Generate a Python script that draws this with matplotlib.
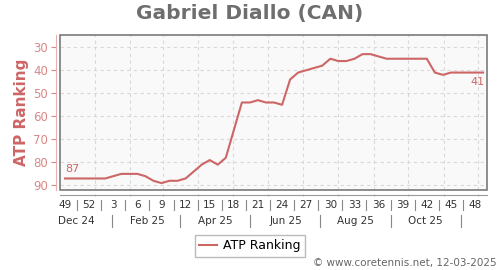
import matplotlib
matplotlib.use('Agg')
import matplotlib.pyplot as plt
import matplotlib.transforms as mtransforms
from matplotlib.patches import Rectangle
import pandas as pd

player = 'Gabriel Diallo (CAN)'
first_week = '2024-12-02'
ranking = [87, 87, 87, 87, 87, 87, 86, 85, 85, 85, 86, 88, 89, 88, 88, 87,
           84, 81, 79, 81, 78, 66, 54, 54, 53, 54, 54, 55, 44, 41, 40, 39,
           38, 35, 36, 36, 35, 33, 33, 34, 35, 35, 35, 35, 35, 35, 41, 42,
           41, 41, 41, 41, 41]
yticks = [30, 40, 50, 60, 70, 80, 90]
month_labels = ['Dec 24', 'Feb 25', 'Apr 25', 'Jun 25', 'Aug 25', 'Oct 25']
credit = '\u00a9 www.coretennis.net, 12-03-2025'

red = '#cd6666'
light_red = '#d98888'

weeks = pd.date_range(first_week, periods=len(ranking), freq='7D')
x = weeks + pd.Timedelta(days=4)
week_nums = [d.isocalendar()[1] for d in weeks]

fig = plt.figure(figsize=(5, 2.7), dpi=100)
ax = fig.add_axes([0.12, 0.2963, 0.8546, 0.574])
ax.set_facecolor('#f9f9f9')

ax.plot(x, ranking, color=red, lw=1.5, label='ATP Ranking', zorder=3)
ax.annotate(str(ranking[0]), (x[0], ranking[0]), xytext=(0, 3), textcoords='offset points',
            ha='left', va='bottom', color=red, fontsize=8)
ax.annotate(str(ranking[-1]), (x[-1], ranking[-1]), xytext=(1, -3), textcoords='offset points',
            ha='right', va='top', color=red, fontsize=8)

ax.set_xlim(pd.Timestamp('2024-12-01 16:00'), pd.Timestamp('2025-12-08 16:00'))
ax.set_ylim(92, 24.7)
ax.set_yticks(yticks)
month_starts = pd.date_range('2025-01-01', '2025-12-01', freq='MS')
ax.set_xticks(month_starts)
ax.grid(True, color='#d8d8d8', ls=(0, (3, 3)), lw=0.8)

for s in ['top', 'right']:
    ax.spines[s].set_visible(False)
ax.spines['left'].set_position(('outward', 3))
ax.spines['left'].set_color('#e6b0b0')
ax.spines['bottom'].set_position(('outward', 3.6))
ax.spines['bottom'].set_color('#999999')
ax.tick_params(axis='y', colors=light_red, labelsize=8.5, length=3.5, width=0.8, pad=2)
ax.tick_params(axis='x', colors='#bbbbbb', length=2, direction='inout', labelbottom=False)
ax.add_patch(Rectangle((0, 0), 1, 1, transform=ax.transAxes, fill=False,
                       ec='#7a7a7a', lw=1.2, clip_on=False, zorder=5))

ax.set_ylabel('ATP Ranking', color=red, fontsize=11, fontweight='bold', labelpad=3)

# two-row date axis below the frame
trans = mtransforms.blended_transform_factory(ax.transData, ax.transAxes)
for i in range(0, len(x), 3):
    ax.text(x[i], -0.097, str(week_nums[i]), transform=trans, ha='center', va='center',
            fontsize=7.5, color='#333333')
for i in range(1, len(x) - 2, 3):
    sep = x[i] + pd.Timedelta(days=3.5)
    ax.plot([sep, sep], [-0.065, -0.13], transform=trans, color='#888888', lw=0.8, clip_on=False)
for lab in month_labels:
    m = pd.to_datetime(lab, format='%b %y')
    mid = m + pd.Timedelta(days=15)
    ax.text(mid, -0.2, lab, transform=trans, ha='center', va='center', fontsize=7.5, color='#333333')
    sep = m + pd.DateOffset(months=1) + pd.Timedelta(days=15)
    ax.plot([sep, sep], [-0.16, -0.24], transform=trans, color='#888888', lw=0.8, clip_on=False)

fig.text(0.5, 1 - 14 / 270, player, ha='center', va='center', fontsize=14.5,
         fontweight='bold', color='#6e6e6e')
fig.legend(loc='center', bbox_to_anchor=(0.5, 1 - 246 / 270), fontsize=9, frameon=True,
           fancybox=False, edgecolor='#aaaaaa', handlelength=1.4, handletextpad=0.5,
           borderpad=0.35, borderaxespad=0)
fig.text(0.994, 1 - 263 / 270, credit, ha='right', va='center', fontsize=7.5, color='#666666')

fig.savefig('out.png', dpi=100)
